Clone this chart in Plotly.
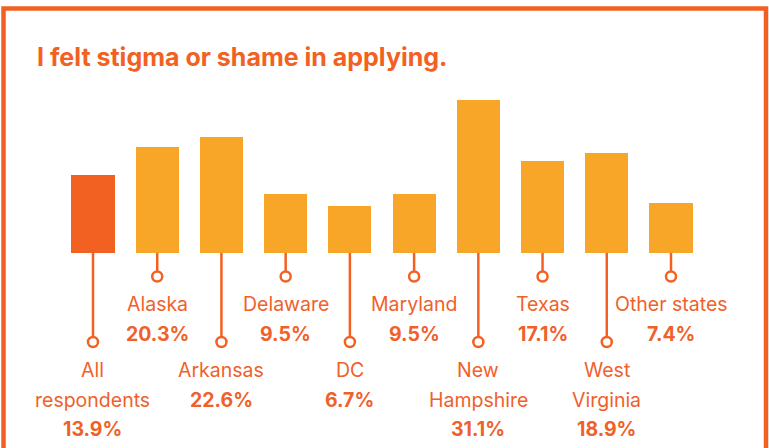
import plotly.graph_objects as go

# ---- data ----
categories = ["All respondents", "Alaska", "Arkansas", "Delaware", "DC",
              "Maryland", "New Hampshire", "Texas", "West Virginia", "Other states"]
label_lines = [["All", "respondents"], ["Alaska"], ["Arkansas"], ["Delaware"], ["DC"],
               ["Maryland"], ["New", "Hampshire"], ["Texas"], ["West", "Virginia"], ["Other states"]]
values = [13.9, 20.3, 22.6, 9.5, 6.7, 9.5, 31.1, 17.1, 18.9, 7.4]
title = "I felt stigma or shame in applying."

# ---- style ----
W, H = 769, 448
DARK = "#F26122"
AMBER = "#F8A628"
TEXT = "#F0612A"
FONT = "Inter"
BASE = -4.12          # bars start slightly below zero (visual stub)
Y_RANGE = [-49.05, 54.17]
X_RANGE = [-1.448, 10.526]

def py(p):  # pixel y -> paper y
    return 1 - p / H

def px(p):
    return p / W

def yval(p):  # pixel y -> data y
    return Y_RANGE[1] - p / H * (Y_RANGE[1] - Y_RANGE[0])

xs = list(range(len(values)))
colors = [DARK] + [AMBER] * (len(values) - 1)

fig = go.Figure()
fig.add_trace(go.Bar(
    x=xs, y=[v - BASE for v in values], base=BASE,
    marker=dict(color=colors, line=dict(width=0)), width=0.67,
    hoverinfo="skip", showlegend=False))

base_px = 253
short_px, long_px = 276.5, 342
lx, ly, cx, cy = [], [], [], []
for i in xs:
    end = long_px if i % 2 == 0 else short_px
    lx += [i, i, None]
    ly += [yval(base_px), yval(end - 5), None]
    cx.append(i)
    cy.append(yval(end))
fig.add_trace(go.Scatter(x=lx, y=ly, mode="lines", line=dict(color=DARK, width=2.5),
                         hoverinfo="skip", showlegend=False))
fig.add_trace(go.Scatter(x=cx, y=cy, mode="markers",
                         marker=dict(symbol="circle", size=10, color="white",
                                     line=dict(color=DARK, width=2.5)),
                         hoverinfo="skip", showlegend=False))

annotations = []
for i, (lines, v) in enumerate(zip(label_lines, values)):
    start = 370 if i % 2 == 0 else 304
    rows = [(l, False) for l in lines] + [(f"{v}%", True)]
    for k, (t, bold) in enumerate(rows):
        annotations.append(dict(
            x=i, xref="x", y=py(start + 29.5 * k), yref="paper",
            text=f"<b>{t}</b>" if bold else t, showarrow=False,
            xanchor="center", yanchor="middle",
            font=dict(family=FONT, size=19.5, color=TEXT)))

annotations.append(dict(
    x=px(35), y=py(57), xref="paper", yref="paper", text=f"<b>{title}</b>",
    showarrow=False, xanchor="left", yanchor="middle",
    font=dict(family=FONT, size=25, color=DARK)))

fig.update_layout(
    width=W, height=H, margin=dict(l=0, r=0, t=0, b=0),
    paper_bgcolor="white", plot_bgcolor="white",
    xaxis=dict(range=X_RANGE, visible=False, fixedrange=True),
    yaxis=dict(range=Y_RANGE, visible=False, fixedrange=True),
    annotations=annotations,
    shapes=[dict(type="rect", xref="paper", yref="paper",
                 x0=px(3.5), x1=px(766), y0=-0.2, y1=py(8.5),
                 line=dict(color=DARK, width=4.5), fillcolor="rgba(0,0,0,0)",
                 layer="above")],
    bargap=0,
)

fig.write_html("out.html", config={"displayModeBar": False},
               post_script="document.body.style.margin='0';document.body.style.overflow='hidden';")
